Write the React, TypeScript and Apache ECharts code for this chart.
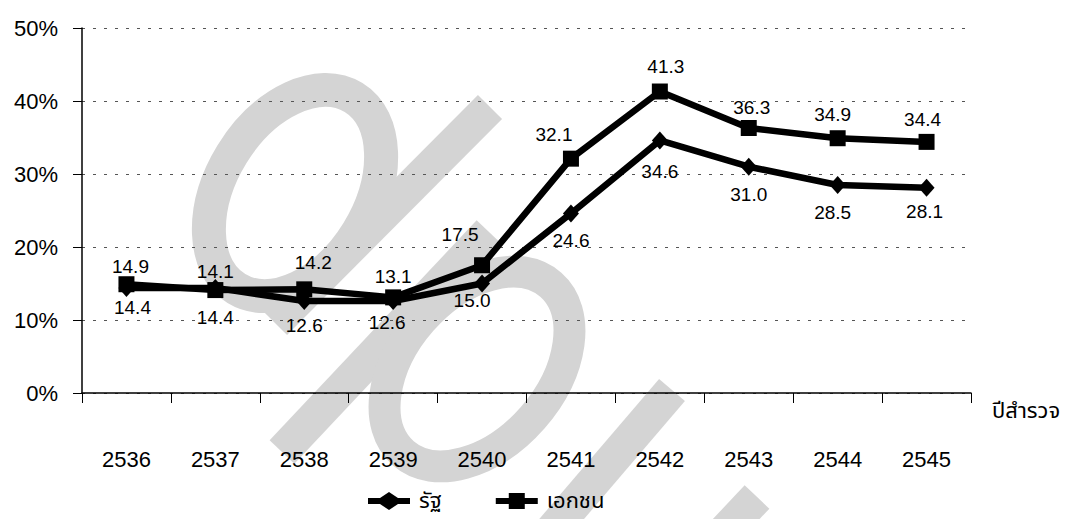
import React, { useEffect, useRef } from "react";
import * as echarts from "echarts";

const years = ["2536", "2537", "2538", "2539", "2540", "2541", "2542", "2543", "2544", "2545"];
const stateValues = [14.4, 14.4, 12.6, 12.6, 15.0, 24.6, 34.6, 31.0, 28.5, 28.1];
const privateValues = [14.9, 14.1, 14.2, 13.1, 17.5, 32.1, 41.3, 36.3, 34.9, 34.4];
const seriesNames = ["รัฐ", "เอกชน"];
const axisTitle = "ปีสำรวจ";
const yMin = 0;
const yMax = 50;
const yStep = 10;

// small per-label nudges (pixels) to mimic the reference label placement
const privateLabelShift: [number, number][] = [
  [4, 5], [0, 4], [9, -4], [0, 2], [-22, -8], [-17, -2], [6, -3], [3, 2], [-5, -1], [-4, 0],
];
const stateLabelShift: [number, number][] = [
  [6, -5], [0, 5], [0, 0], [-6, -3], [-10, -8], [0, 3], [0, 7], [0, 3], [-5, 3], [-2, -1],
];

// legend icons: thick line with the series marker in the middle
const diamondIcon = "path://M0,6H12L21,0L30,6H42V12H30L21,18L12,12H0Z";
const squareIcon = "path://M0,6H13V1H29V6H42V12H29V17H13V12H0Z";

const FONT = "'Liberation Sans', Arial, Helvetica, sans-serif";
const THAI = "'Noto Sans Thai', 'Noto Sans Thai Looped', Loma, Garuda, 'Tlwg Typist', 'Liberation Sans', sans-serif";
const GRAY = "#d4d4d4";

function band(x0: number, y0: number, x1: number, y1: number, w: number) {
  const dx = x1 - x0;
  const dy = y1 - y0;
  const len = Math.sqrt(dx * dx + dy * dy);
  const nx = (-dy / len) * (w / 2);
  const ny = (dx / len) * (w / 2);
  return {
    type: "polygon",
    z: -10,
    silent: true,
    shape: {
      points: [
        [x0 + nx, y0 + ny],
        [x1 + nx, y1 + ny],
        [x1 - nx, y1 - ny],
        [x0 - nx, y0 - ny],
      ],
    },
    style: { fill: GRAY },
  };
}

function ring(cx: number, cy: number, rx: number, ry: number, rot: number, w: number) {
  return {
    type: "ellipse",
    z: -10,
    silent: true,
    x: cx,
    y: cy,
    rotation: rot,
    shape: { cx: 0, cy: 0, rx, ry },
    style: { fill: "none", stroke: GRAY, lineWidth: w },
  };
}

export default function App() {
  const ref = useRef<HTMLDivElement>(null);

  useEffect(() => {
    if (!ref.current) return;
    const chart = echarts.init(ref.current, null, { renderer: "svg" });

    const labelBase = {
      show: true,
      fontFamily: FONT,
      fontSize: 19,
      color: "#000",
      formatter: (p: any) => Number(p.value).toFixed(1),
    };

    const option: any = {
      animation: false,
      backgroundColor: "#ffffff",
      graphic: [
        ring(295, 193, 74, 112, -0.55, 34),
        band(275, 323, 490, 107, 34),
        band(282, 452, 489, 232, 34),
        ring(477, 369, 74, 112, -0.72, 32),
        band(672, 390, 530, 556, 34),
        band(757, 497, 690, 568, 34),
        {
          type: "text",
          left: 992,
          top: 400,
          style: { text: axisTitle, fontSize: 22, fontFamily: THAI, fill: "#000" },
        },
      ],
      grid: { left: 82, right: 101, top: 28, bottom: 126, containLabel: false },
      legend: {
        data: [
          { name: seriesNames[0], icon: diamondIcon },
          { name: seriesNames[1], icon: squareIcon },
        ],
        left: 363,
        top: 485,
        itemWidth: 42,
        itemHeight: 18,
        itemGap: 54,
        itemStyle: { color: "#000", borderWidth: 0 },
        textStyle: { fontSize: 22, fontFamily: THAI, color: "#000", padding: [0, 0, 0, 4] },
      },
      xAxis: {
        type: "category",
        data: years,
        boundaryGap: true,
        axisLine: { lineStyle: { color: "#000", width: 1.5 } },
        axisTick: { show: true, length: 10, lineStyle: { color: "#000" } },
        axisLabel: { margin: 55, fontSize: 22, fontFamily: FONT, color: "#000" },
        splitLine: { show: false },
      },
      yAxis: {
        type: "value",
        min: yMin,
        max: yMax,
        interval: yStep,
        axisLine: { show: true, lineStyle: { color: "#000", width: 1.5 } },
        axisTick: { show: true, length: 9, lineStyle: { color: "#000" } },
        axisLabel: {
          margin: 24,
          fontSize: 22,
          fontFamily: FONT,
          color: "#000",
          formatter: "{value}%",
        },
        splitLine: { show: true, lineStyle: { color: "#555", width: 1, type: [3, 8] } },
      },
      series: [
        {
          name: seriesNames[0],
          type: "line",
          data: stateValues.map((v, i) => ({
            value: v,
            label: { offset: stateLabelShift[i] },
          })),
          symbol: "diamond",
          symbolSize: [16, 18],
          itemStyle: { color: "#000" },
          lineStyle: { color: "#000", width: 6.5 },
          label: { ...labelBase, position: "bottom", distance: 6 },
          z: 3,
        },
        {
          name: seriesNames[1],
          type: "line",
          data: privateValues.map((v, i) => ({
            value: v,
            label: { offset: privateLabelShift[i] },
          })),
          symbol: "rect",
          symbolSize: 16,
          itemStyle: { color: "#000" },
          lineStyle: { color: "#000", width: 6.5 },
          label: { ...labelBase, position: "top", distance: 5 },
          z: 4,
        },
      ],
    };

    chart.setOption(option);
    return () => chart.dispose();
  }, []);

  return (
    <div
      ref={ref}
      style={{ position: "fixed", left: 0, top: 0, width: 1072, height: 519, background: "#fff" }}
    />
  );
}
